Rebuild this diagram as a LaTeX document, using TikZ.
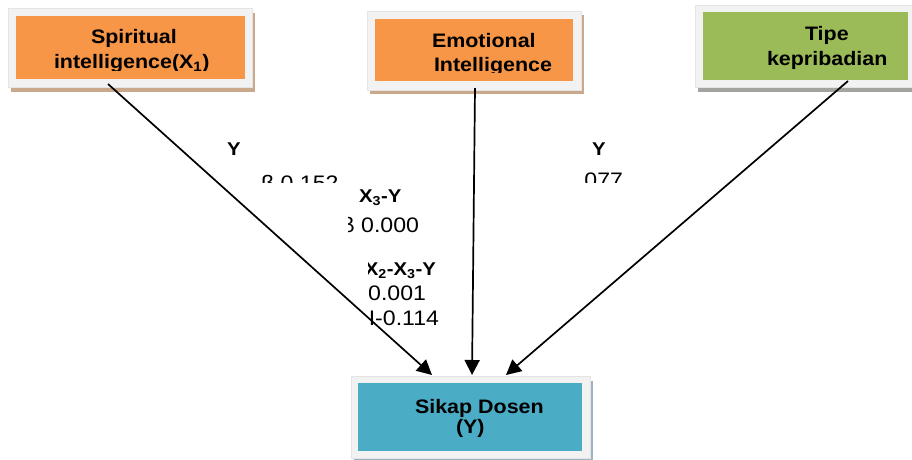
\documentclass[tikz,border=0pt]{standalone}
\usepackage{fontspec}
\setmainfont{Liberation Sans}[FakeStretch=1.1]
\usetikzlibrary{arrows.meta}
\definecolor{frameg}{HTML}{F2F2F2}
\definecolor{framee}{HTML}{E4E4E4}
\definecolor{orangef}{HTML}{F79646}
\definecolor{greenf}{HTML}{9BBB59}
\definecolor{bluef}{HTML}{4BACC6}
\definecolor{tanshadow}{HTML}{C9A88C}
\definecolor{grayshadow}{HTML}{A3A3A0}
\definecolor{blueshadow}{HTML}{9DB5C0}
\newcommand\boxfont{\fontsize{19.5}{23}\selectfont\bfseries}
\newcommand\labfont{\fontsize{18.5}{21}\selectfont\bfseries}
\newcommand\numfont{\fontsize{21}{24}\selectfont}
\begin{document}
\begin{tikzpicture}[x=1pt,y=-1pt,
  box/.style={rectangle, inner sep=0pt, outer sep=0pt, anchor=north west},
  framebox/.style={box, fill=frameg, draw=framee, line width=0.6pt},
  shadowbox/.style={box, draw=none},
  txt/.style={inner sep=0pt, outer sep=0pt, anchor=base west},
  txte/.style={inner sep=0pt, outer sep=0pt, anchor=base east},
  link/.style={line width=1.7pt, -{Triangle[length=15pt,width=15pt]}}]
\useasboundingbox (0,0) rectangle (912,459);
\fill[white] (0,0) rectangle (912,459);

% Spiritual intelligence
\node[shadowbox, fill=tanshadow, minimum width=244pt, minimum height=79pt] (spS) at (11,13) {};
\node[framebox, minimum width=244pt, minimum height=79pt] (spF) at (8,8) {};
\node[box, fill=orangef, minimum width=229pt, minimum height=63pt] (sp) at (16,16) {};
\node[txt, font=\boxfont] (spT1) at (91,43.5) {Spiritual};
\begin{scope}
\clip (16,50) rectangle (245,70);
\node[txt, font=\boxfont] (spT2) at (54,68.5) {intelligence(X\textsubscript{1})};
\end{scope}

% Emotional intelligence
\node[shadowbox, fill=tanshadow, minimum width=214pt, minimum height=79pt] (emS) at (370,15) {};
\node[framebox, minimum width=214pt, minimum height=79pt] (emF) at (367,11) {};
\node[box, fill=orangef, minimum width=198pt, minimum height=62pt] (em) at (375,19) {};
\node[txt, font=\boxfont] (emT1) at (432,47) {Emotional};
\begin{scope}
\clip (375,52) rectangle (573,72.5);
\node[txt, font=\boxfont] (emT2) at (434,71) {Intelligence};
\end{scope}

% Tipe kepribadian
\node[shadowbox, fill=grayshadow, minimum width=225pt, minimum height=82pt] (tpS) at (698,10) {};
\node[framebox, minimum width=225pt, minimum height=82pt] (tpF) at (695,5) {};
\node[box, fill=greenf, minimum width=205pt, minimum height=68pt] (tp) at (703,12) {};
\node[txt, font=\boxfont] (tpT1) at (805,40) {Tipe};
\node[txt, font=\boxfont] (tpT2) at (767,65) {kepribadian};

% Sikap Dosen
\node[shadowbox, fill=blueshadow, minimum width=239pt, minimum height=82pt] (skS) at (354,381) {};
\node[framebox, minimum width=239pt, minimum height=82pt] (skF) at (351,376) {};
\node[box, fill=bluef, minimum width=224pt, minimum height=68pt] (sk) at (358,383) {};
\node[txt, font=\boxfont] (skT1) at (415,413) {Sikap Dosen};
\node[txt, font=\boxfont] (skT2) at (456,433) {(Y)};

% connector ends
\coordinate (a1s) at (108,84);
\coordinate (a1e) at (432,375);
\coordinate (a2s) at (475,88);
\coordinate (a2e) at (472,375);
\coordinate (a3s) at (848,81);
\coordinate (a3e) at (506,375);

\draw[link] (a1s) -- (a1e);
\draw[link] (a2s) -- (a2e);
\draw[link] (a3s) -- (a3e);

% path labels (partly hidden, as printed)
\node[txt, font=\labfont] (l1) at (227,155) {Y};
\begin{scope}
\clip (250,160) rectangle (345,182);
\node[txt, font=\numfont] (n1) at (261,190) {β 0.152};
\end{scope}
\node[txt, font=\labfont] (l2) at (359,202) {X\textsubscript{3}-Y};
\begin{scope}
\clip (348,205) rectangle (430,240);
\node[txte, font=\numfont] (n2) at (419,232) {β 0.000};
\end{scope}
\begin{scope}
\clip (368,255) rectangle (445,282);
\node[txte, font=\labfont] (l3) at (436,275) {X\textsubscript{2}-X\textsubscript{3}-Y};
\end{scope}
\begin{scope}
\clip (369,280) rectangle (440,306);
\node[txte, font=\numfont] (n3) at (426,300) {-0.001};
\end{scope}
\node[txte, font=\numfont] (n4) at (439,325) {I-0.114};
\node[txt, font=\labfont] (l4) at (592,155) {Y};
\begin{scope}
\clip (580,160) rectangle (630,182);
\node[txte, font=\numfont] (n5) at (623,187) {077};
\end{scope}
\end{tikzpicture}
\end{document}
